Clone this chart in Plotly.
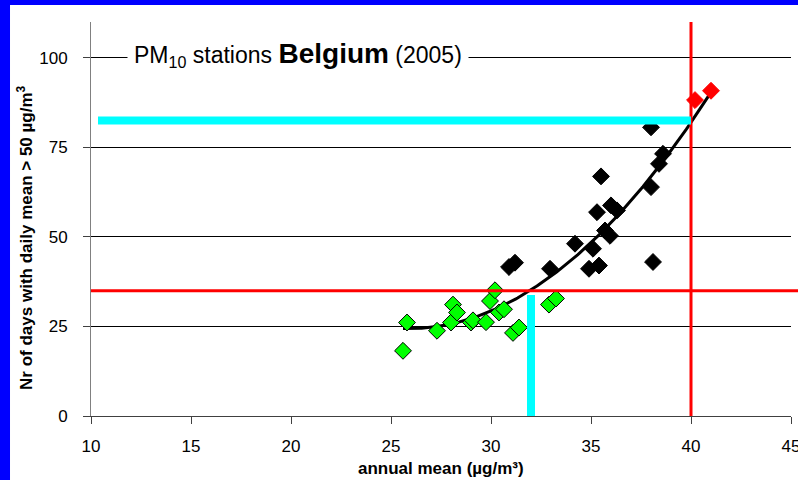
import numpy as np
import plotly.graph_objects as go

# ---- data ----
green_x = [25.6, 25.8, 27.3, 28.0, 28.1, 28.3, 29.0, 29.1, 29.75, 29.95, 30.2, 30.4, 30.65, 31.1, 31.4, 32.9, 33.25]
green_y = [18.2, 26.1, 23.8, 26.1, 31.1, 28.9, 26.1, 26.7, 26.2, 32.1, 35.1, 28.9, 29.8, 23.2, 24.7, 31.1, 32.8]

black_x = [30.9, 31.2, 32.95, 34.2, 34.9, 35.1, 35.4, 35.3, 35.5, 35.7, 35.95, 36.0, 36.3, 38.0, 38.0, 38.1, 38.4, 38.6]
black_y = [41.6, 42.8, 41.1, 48.1, 41.1, 46.7, 42.0, 56.9, 66.9, 51.8, 50.3, 58.8, 57.4, 80.6, 63.9, 43.0, 70.4, 73.2]

red_x = [40.2, 41.0]
red_y = [88.2, 90.8]

x_ticks = [10, 15, 20, 25, 30, 35, 40, 45]
y_ticks = [0, 25, 50, 75, 100]

limit_annual = 40      # annual mean limit value
limit_days = 35        # allowed exceedance days
equiv_annual = 32      # annual mean equivalent to 35 days
days_at_limit = 82.5   # days at annual mean 40
cyan_start = 10.35

font = "Liberation Sans, Arial, sans-serif"

all_x = np.array(green_x + black_x + red_x)
all_y = np.array(green_y + black_y + red_y)
coef = np.polyfit(all_x, all_y, 2)
tx = np.linspace(all_x.min(), all_x.max(), 200)
ty = np.polyval(coef, tx)

fig = go.Figure()
fig.add_trace(go.Scatter(x=tx, y=ty, mode="lines", line=dict(color="black", width=3), hoverinfo="skip"))
fig.add_trace(go.Scatter(x=green_x, y=green_y, mode="markers",
                         marker=dict(symbol="diamond", size=13, color="#00FF00", line=dict(color="black", width=1))))
fig.add_trace(go.Scatter(x=black_x, y=black_y, mode="markers",
                         marker=dict(symbol="diamond", size=13, color="black", line=dict(color="black", width=1))))
fig.add_trace(go.Scatter(x=red_x, y=red_y, mode="markers",
                         marker=dict(symbol="diamond", size=13, color="#FF0000", line=dict(color="#FF0000", width=1))))

shapes = [
    # white card on blue frame
    dict(type="rect", xref="paper", yref="paper", x0=-0.1157, x1=1.02, y0=-0.17, y1=1.0431,
         fillcolor="white", line=dict(width=0), layer="below"),
    dict(type="line", xref="paper", yref="y", x0=0, x1=1.02, y0=limit_days, y1=limit_days,
         line=dict(color="#FF0000", width=3)),
    dict(type="line", xref="x", yref="paper", x0=limit_annual, x1=limit_annual, y0=0, y1=1,
         line=dict(color="#FF0000", width=3)),
    dict(type="line", xref="x", yref="y", x0=cyan_start, x1=limit_annual, y0=days_at_limit, y1=days_at_limit,
         line=dict(color="#00FFFF", width=8)),
    dict(type="line", xref="x", yref="y", x0=equiv_annual, x1=equiv_annual, y0=-2, y1=33.8,
         line=dict(color="#00FFFF", width=8)),
]

annotations = [
    dict(text="PM<sub>10</sub> stations <b><span style='font-size:28px'>Belgium</span></b> (2005)",
         xref="paper", yref="y", x=0.295, y=100, yshift=3, xanchor="center", yanchor="middle",
         showarrow=False, bgcolor="white", borderpad=6, font=dict(family=font, size=23, color="black")),
    dict(text="<b>Nr of days with daily mean &gt; 50 µg/m<sup>3</sup></b>", textangle=-90,
         xref="paper", yref="paper", x=-0.0943, y=0.452, xanchor="center", yanchor="middle",
         showarrow=False, font=dict(family=font, size=17, color="black")),
    dict(text="<b>annual mean (µg/m³)</b>",
         xref="paper", yref="paper", x=0.5, y=-0.132, xanchor="center", yanchor="middle",
         showarrow=False, font=dict(family=font, size=17, color="black")),
]

fig.update_layout(
    width=798, height=480,
    margin=dict(l=91, r=7, t=22, b=64, autoexpand=False),
    paper_bgcolor="#0000FF", plot_bgcolor="white",
    showlegend=False, shapes=shapes, annotations=annotations,
    font=dict(family=font, size=17, color="black"),
)
fig.update_xaxes(range=[10, 45], tickvals=x_ticks, ticks="outside", ticklen=7, tickcolor="#404040",
                 showline=True, linecolor="#404040", linewidth=1, showgrid=False, zeroline=False,
                 ticklabelstandoff=8, ticklabeloverflow="allow", automargin=False, tickfont=dict(size=17))
fig.update_yaxes(range=[0, 110], tickvals=y_ticks, ticks="outside", ticklen=7, tickcolor="#404040",
                 showline=True, linecolor="#808080", linewidth=1, showgrid=True, gridcolor="black",
                 gridwidth=1, zeroline=False, ticklabelstandoff=12, ticklabeloverflow="allow",
                 automargin=False, tickfont=dict(size=17))

fig.write_html(
    "out.html",
    config={"displayModeBar": False},
    post_script="document.body.style.margin='0';document.body.style.background='#0000FF';"
                "document.body.style.overflow='hidden';",
)
